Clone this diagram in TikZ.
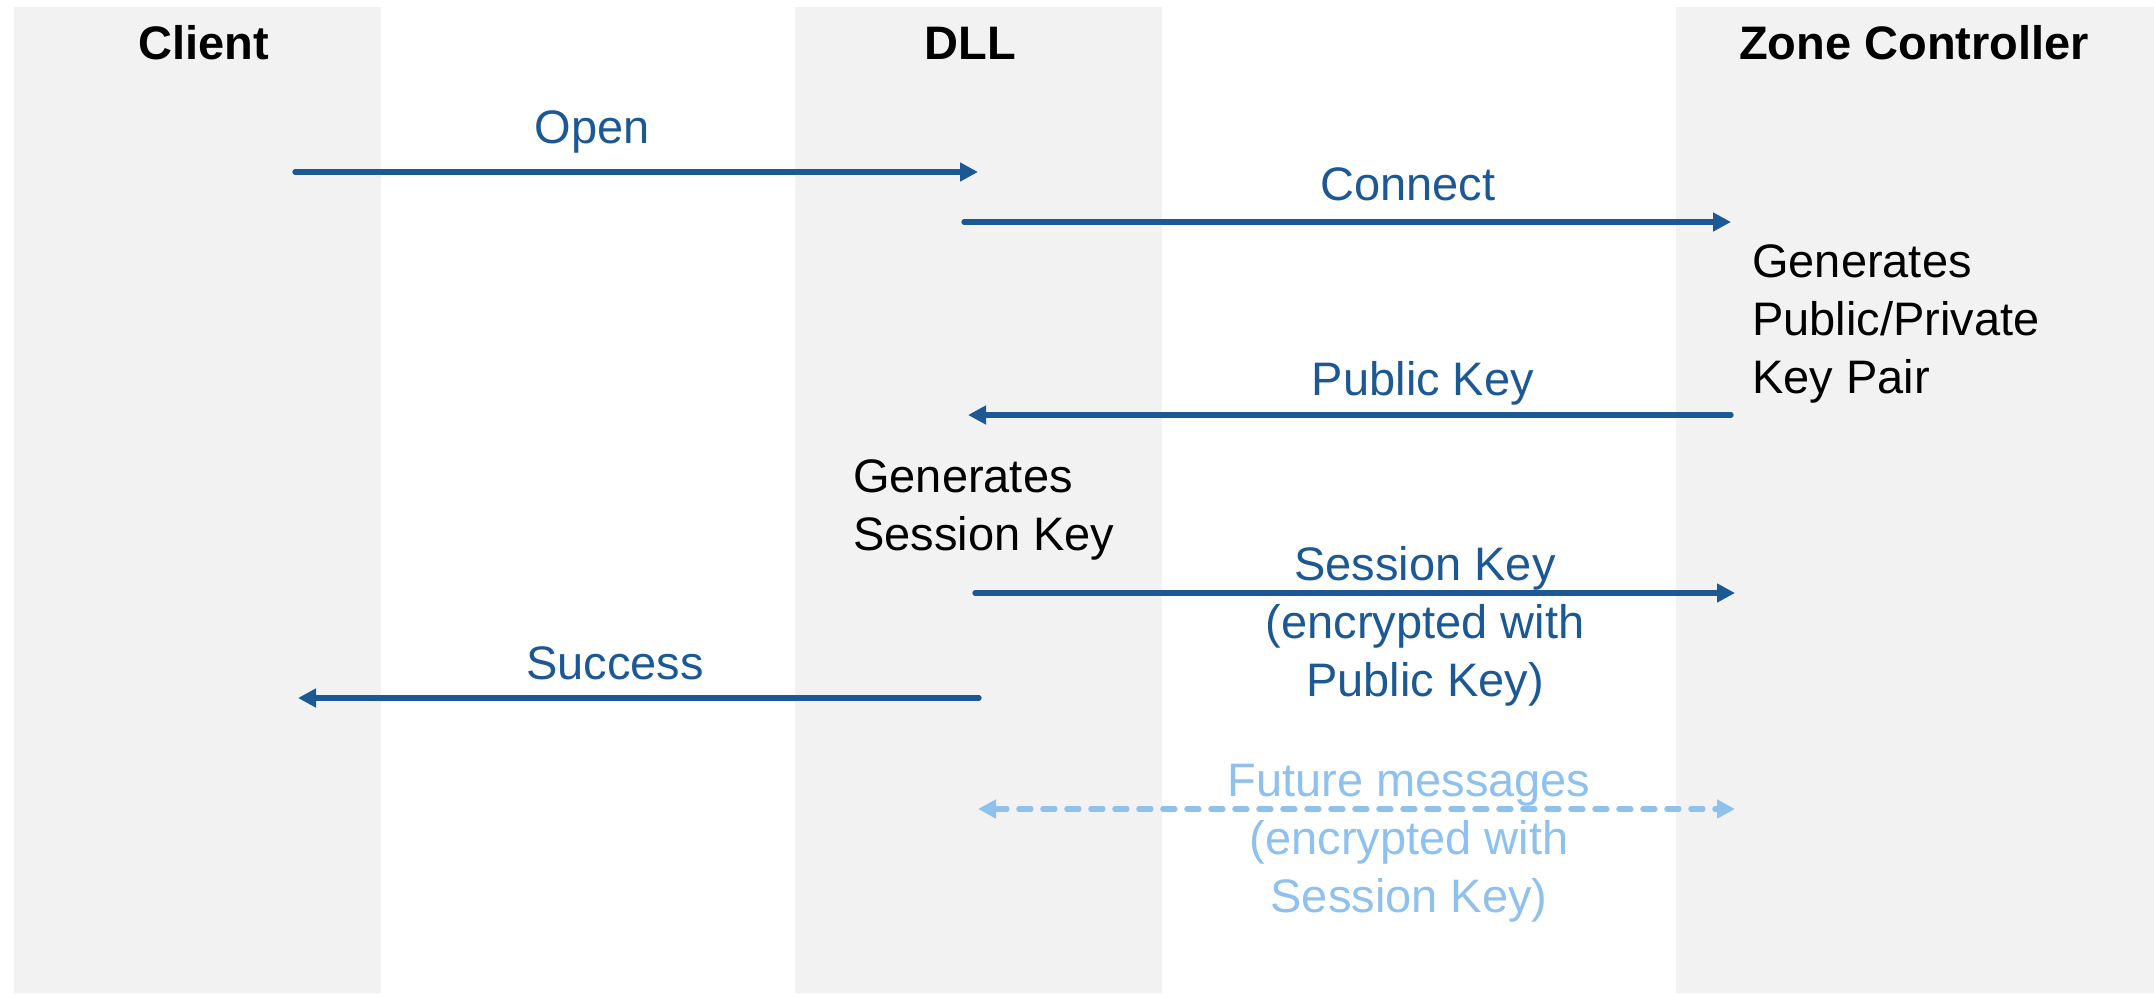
\documentclass[tikz,border=0pt]{standalone}
\usepackage{fontspec}
\setmainfont{Liberation Sans}
\usetikzlibrary{arrows.meta}
\definecolor{lanegray}{RGB}{242,242,242}
\definecolor{msgblue}{RGB}{28,88,148}
\definecolor{futureblue}{RGB}{142,193,238}
\begin{document}
\begin{tikzpicture}[x=1pt,y=-1pt,
  lanebox/.style={fill=lanegray,draw=none},
  header/.style={font=\fontsize{47}{58}\selectfont\bfseries,inner sep=0pt,anchor=base},
  note/.style={font=\fontsize{47}{58}\selectfont,inner sep=0pt,align=left,anchor=base west},
  msglabel/.style={font=\fontsize{47}{58}\selectfont,inner sep=0pt,align=center,anchor=base,text=msgblue},
  futurelabel/.style={msglabel,text=futureblue},
  msgarrow/.style={draw=msgblue,line width=5.3pt,line cap=round,-{Triangle[length=18pt,width=18pt]}},
  futurearrow/.style={draw=futureblue,line width=5.3pt,line cap=round,dash pattern=on 12pt off 12pt,
    {Triangle[length=18pt,width=18pt]}-{Triangle[length=18pt,width=18pt]}}
]
\useasboundingbox (0,0) rectangle (2154,993);

% swim lanes
\fill[lanebox] (14,7) rectangle (381,993);
\fill[lanebox] (795,7) rectangle (1162,993);
\fill[lanebox] (1676,7) rectangle (2154,993);

% lane headers
\node[header] (client) at (203.5,59) {Client};
\node[header] (dll) at (970.5,59) {DLL};
\node[header] (zc) at (1914,59) {Zone Controller};

% message end points on the lifelines
\coordinate (openA) at (295,172);
\coordinate (openB) at (978,172);
\coordinate (connA) at (964,222);
\coordinate (connB) at (1731,222);
\coordinate (pubA) at (1731,415);
\coordinate (pubB) at (968,415);
\coordinate (sessA) at (975,593);
\coordinate (sessB) at (1735,593);
\coordinate (succA) at (979,698);
\coordinate (succB) at (298,698);
\coordinate (futA) at (978,809);
\coordinate (futB) at (1735,809);

% messages (multi-line nodes are placed by the baseline of their last line)
\draw[msgarrow] (openA) -- (openB);
\node[msglabel] (openlbl) at (592,143) {Open};

\draw[msgarrow] (connA) -- (connB);
\node[msglabel] (connlbl) at (1408,200) {Connect};

\node[note] (zcnote) at (1752,393) {Generates\\Public/Private\\Key Pair};

\draw[msgarrow] (pubA) -- (pubB);
\node[msglabel] (publbl) at (1423,395) {Public Key};

\node[note] (dllnote) at (853,550) {Generates\\Session Key};

\draw[msgarrow] (sessA) -- (sessB);
\node[msglabel] (sesslbl) at (1425,696) {Session Key\\(encrypted with\\Public Key)};

\draw[msgarrow] (succA) -- (succB);
\node[msglabel] (succlbl) at (615,679) {Success};

\draw[futurearrow] (futA) -- (futB);
\node[futurelabel] (futlbl) at (1409,912) {Future messages\\(encrypted with\\Session Key)};
\end{tikzpicture}
\end{document}
